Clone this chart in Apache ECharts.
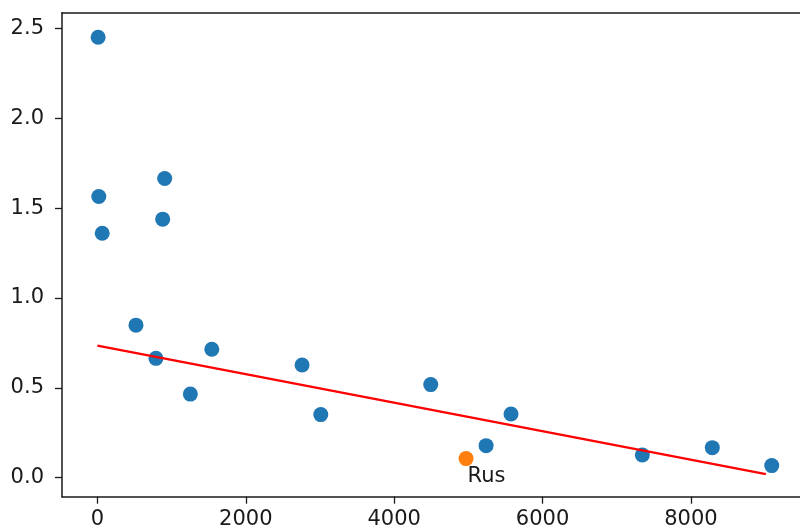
<!DOCTYPE html>
<html>
<head>
<meta charset="utf-8">
<script src="https://cdn.jsdelivr.net/npm/echarts@6/dist/echarts.min.js"></script>
<style>html,body{margin:0;padding:0;background:#fff;}#c{width:800px;height:530px;}</style>
</head>
<body>
<div id="c"></div>
<script>
// Data
const xValues = [10, 19, 65, 907, 880, 520, 789, 1253, 1542, 2759, 3011, 4493, 5239, 5575, 7345, 8288, 9089];
const yValues = [2.451, 1.565, 1.360, 1.665, 1.439, 0.849, 0.664, 0.465, 0.715, 0.627, 0.351, 0.518, 0.178, 0.354, 0.126, 0.167, 0.067];
const rusX = [4969];
const rusY = [0.106];
const rusLabel = 'Rus';
const lineX = [0, 9010];
const lineY = [0.735, 0.02];
const xTicks = [0, 2000, 4000, 6000, 8000];
const yTicks = [0.0, 0.5, 1.0, 1.5, 2.0, 2.5];

const font = 'DejaVu Sans';
const chart = echarts.init(document.getElementById('c'), null, {renderer: 'canvas'});
const pts = xValues.map((x, i) => [x, yValues[i]]);
const rus = rusX.map((x, i) => [x, rusY[i]]);
const line = lineX.map((x, i) => [x, lineY[i]]);

chart.setOption({
  animation: false,
  backgroundColor: '#fff',
  grid: {left: 62, top: 12.7, right: 0, bottom: 33.3},
  xAxis: [{
    type: 'value', min: -477, max: 9470,
    splitLine: {show: false},
    axisLine: {show: true, onZero: false, lineStyle: {color: '#1a1a1a', width: 1.5}},
    axisTick: {show: true, length: 7, customValues: xTicks, lineStyle: {color: '#1a1a1a', width: 1.3}},
    axisLabel: {customValues: xTicks, color: '#1a1a1a', fontFamily: font, fontSize: 21, margin: 12,
      formatter: v => String(Math.round(v))}
  }, {
    type: 'value', position: 'top', min: -477, max: 9470,
    splitLine: {show: false},
    axisLine: {show: true, onZero: false, lineStyle: {color: '#1a1a1a', width: 1.5}},
    axisTick: {show: false}, axisLabel: {show: false}
  }],
  yAxis: {
    type: 'value', min: -0.106, max: 2.588,
    splitLine: {show: false},
    axisLine: {show: true, onZero: false, lineStyle: {color: '#1a1a1a', width: 1.5}},
    axisTick: {show: true, length: 7, customValues: yTicks, lineStyle: {color: '#1a1a1a', width: 1.3}},
    axisLabel: {customValues: yTicks, color: '#1a1a1a', fontFamily: font, fontSize: 21, margin: 18,
      formatter: v => v.toFixed(1)}
  },
  series: [{
    type: 'scatter', data: pts, symbolSize: 15,
    itemStyle: {color: '#1f77b4', opacity: 1}, z: 2
  }, {
    type: 'scatter', data: rus, symbolSize: 15,
    itemStyle: {color: '#ff7f0e', opacity: 1}, z: 2,
    label: {show: true, formatter: rusLabel, position: [9, 15], align: 'left', verticalAlign: 'top',
      color: '#1a1a1a', fontFamily: font, fontSize: 21}
  }, {
    type: 'line', data: line, showSymbol: false, symbol: 'none',
    lineStyle: {color: '#ff0000', width: 2.3}, z: 3
  }]
});
</script>
</body>
</html>
